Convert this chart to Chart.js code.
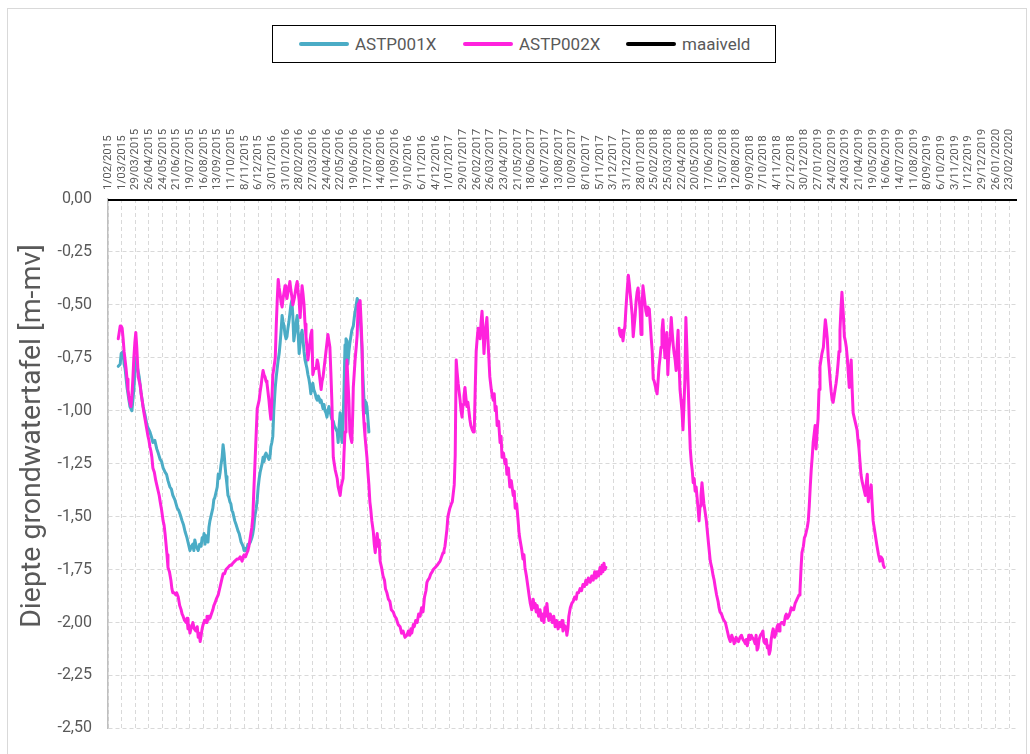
<!DOCTYPE html>
<html>
<head>
<meta charset="utf-8">
<title>Diepte grondwatertafel</title>
<script src="https://cdn.jsdelivr.net/npm/chart.js@4.4.0/dist/chart.umd.min.js"></script>
<style>
  html, body { margin: 0; padding: 0; background: #fff; }
  #wrap { position: relative; width: 1030px; height: 754px; overflow: hidden; }
  #frame { position: absolute; left: 7px; top: 8px; width: 1020px; height: 800px;
           border: 1px solid #d9d9d9; box-sizing: border-box; pointer-events: none; }
  #legend { position: absolute; left: 272px; top: 25px; width: 504px; height: 38px;
            border: 1.5px solid #000; box-sizing: border-box; background: #fff;
            font-family: Roboto, "Liberation Sans", sans-serif; font-size: 17px; color: #595959; }
  #legend .item { position: absolute; top: 0; height: 100%; display: flex; align-items: center; white-space: nowrap; }
  #legend .swatch { display: inline-block; width: 50px; height: 4px; border-radius: 2px; margin-right: 6px; }
  canvas { position: absolute; left: 0; top: 0; }
</style>
</head>
<body>
<div id="wrap">
  <canvas id="grafiek" width="1030" height="754"></canvas>
  <div id="frame"></div>
  <div id="legend"></div>
</div>
<script>
// Peilbuismetingen, dagen sinds 1/02/2015 met diepte in m-mv
const asStart = '1/02/2015';
const asEinde = '10/03/2020';

const tickLabels = [
  '1/02/2015','1/03/2015','29/03/2015','26/04/2015','24/05/2015','21/06/2015','19/07/2015',
  '16/08/2015','13/09/2015','11/10/2015','8/11/2015','6/12/2015','3/01/2016','31/01/2016',
  '28/02/2016','27/03/2016','24/04/2016','22/05/2016','19/06/2016','17/07/2016','14/08/2016',
  '11/09/2016','9/10/2016','6/11/2016','4/12/2016','1/01/2017','29/01/2017','26/02/2017',
  '26/03/2017','23/04/2017','21/05/2017','18/06/2017','16/07/2017','13/08/2017','10/09/2017',
  '8/10/2017','5/11/2017','3/12/2017','31/12/2017','28/01/2018','25/02/2018','25/03/2018',
  '22/04/2018','20/05/2018','17/06/2018','15/07/2018','12/08/2018','9/09/2018','7/10/2018',
  '4/11/2018','2/12/2018','30/12/2018','27/01/2019','24/02/2019','24/03/2019','21/04/2019',
  '19/05/2019','16/06/2019','14/07/2019','11/08/2019','8/09/2019','6/10/2019','3/11/2019',
  '1/12/2019','29/12/2019','26/01/2020','23/02/2020'
];

const reeksNamen = ['ASTP001X', 'ASTP002X', 'maaiveld'];
const reeksKleuren = ['#4bacc6', '#ff22dd', '#000000'];

// ASTP001X: [dag, peil]
const astp001x = [
  [21,-0.79],[25,-0.78],[27,-0.73],[31,-0.72],[33,-0.78],[35,-0.80],[39,-0.89],[43,-0.95],
  [45,-0.98],[49,-1.00],[53,-0.90],[57,-0.75],[59,-0.78],[64,-0.84],[68,-0.92],[72,-0.98],
  [76,-1.02],[80,-1.07],[86,-1.10],[90,-1.13],[92,-1.15],[96,-1.14],[100,-1.18],[103,-1.20],[107,-1.23],
  [110,-1.24],[113,-1.27],[117,-1.29],[120,-1.30],[123,-1.33],[127,-1.36],[130,-1.37],[133,-1.40],
  [137,-1.42],[142,-1.46],[145,-1.47],[148,-1.49],[152,-1.52],[155,-1.54],[158,-1.57],[162,-1.60],
  [166,-1.64],[168,-1.66],[171,-1.64],[174,-1.63],[176,-1.66],[178,-1.61],[181,-1.64],[183,-1.65],[185,-1.66],
  [188,-1.63],[191,-1.64],[193,-1.60],[195,-1.61],[197,-1.58],[199,-1.63],[201,-1.59],[203,-1.61],[205,-1.62],
  [207,-1.55],[209,-1.52],[211,-1.50],[213,-1.48],[215,-1.46],[217,-1.42],[219,-1.41],[222,-1.38],[224,-1.36],
  [226,-1.30],[228,-1.32],[230,-1.29],[232,-1.25],[234,-1.22],[236,-1.16],[238,-1.20],[240,-1.26],
  [242,-1.31],[244,-1.35],[246,-1.40],[248,-1.41],[250,-1.43],[252,-1.44],[254,-1.47],[256,-1.48],
  [258,-1.50],[260,-1.52],[263,-1.54],[267,-1.57],[269,-1.58],[271,-1.60],[273,-1.62],[275,-1.63],
  [277,-1.64],[279,-1.66],[281,-1.65],[283,-1.66],[285,-1.65],[287,-1.63],[289,-1.63],[292,-1.62],
  [295,-1.60],[297,-1.58],[299,-1.55],[301,-1.50],[304,-1.46],[306,-1.42],[308,-1.36],[310,-1.32],
  [312,-1.29],[314,-1.27],[316,-1.25],[318,-1.22],[320,-1.24],[322,-1.21],[324,-1.20],[326,-1.20],
  [328,-1.22],[330,-1.23],[332,-1.22],[334,-1.17],[336,-1.15],[338,-1.12],[340,-1.00],[343,-0.89],
  [345,-0.84],[347,-0.80],[349,-0.76],[351,-0.73],[353,-0.68],[355,-0.62],[357,-0.55],[359,-0.58],
  [361,-0.60],[363,-0.64],[365,-0.66],[367,-0.65],[369,-0.61],[371,-0.58],[373,-0.54],[375,-0.50],
  [377,-0.48],[379,-0.55],[381,-0.67],[384,-0.62],[386,-0.58],[388,-0.55],[390,-0.64],[392,-0.73],
  [394,-0.68],[396,-0.64],[398,-0.62],[400,-0.67],[402,-0.72],[404,-0.76],[406,-0.78],[408,-0.80],
  [410,-0.83],[412,-0.85],[414,-0.88],[416,-0.92],[418,-0.89],[420,-0.87],[422,-0.90],[425,-0.92],
  [427,-0.94],[429,-0.95],[431,-0.93],[433,-0.94],[435,-0.96],[437,-0.95],[439,-0.97],[441,-0.99],
  [443,-0.97],[445,-1.00],[447,-1.01],[449,-1.03],[451,-1.00],[453,-0.98],[455,-1.00],[457,-1.02],
  [459,-1.04],[462,-1.05],[464,-1.07],[466,-1.08],[468,-1.09],[470,-1.10],[472,-1.15],[474,-1.07],
  [476,-1.01],[478,-1.10],[480,-1.15],[482,-1.05],[484,-0.90],[486,-0.69],[488,-0.66],[490,-0.67],
  [492,-0.78],[494,-0.72],[496,-0.68],[498,-0.65],[500,-0.62],[503,-0.60],[505,-0.56],[507,-0.53],
  [509,-0.50],[511,-0.47],[513,-0.48],[515,-0.50],[517,-0.55],[519,-0.63],[521,-0.72],[523,-0.85],
  [525,-0.95],[527,-1.01],[529,-0.96],[531,-0.98],[533,-1.04],[535,-1.10]
];

// ASTP002X: [dag, peil]; null = ontbrekende metingen
const astp002x = [
  [21,-0.66],[23,-0.63],[25,-0.60],[27,-0.60],[29,-0.61],[31,-0.66],[33,-0.72],[35,-0.76],[37,-0.80],
  [39,-0.85],[41,-0.90],[44,-0.95],[47,-0.98],[49,-0.93],[51,-0.85],[53,-0.75],[55,-0.68],[57,-0.63],
  [59,-0.70],[62,-0.84],[64,-0.86],[66,-0.88],[68,-0.92],[70,-0.95],[73,-1.00],[76,-1.04],[79,-1.08],
  [82,-1.12],[84,-1.14],[86,-1.17],[88,-1.19],[90,-1.22],[92,-1.27],[95,-1.29],[98,-1.33],[100,-1.35],
  [103,-1.38],[105,-1.40],[107,-1.43],[110,-1.47],[113,-1.52],[115,-1.54],[117,-1.58],[119,-1.63],
  [121,-1.68],[123,-1.74],[126,-1.76],[129,-1.80],[131,-1.84],[133,-1.86],[136,-1.86],[139,-1.87],
  [141,-1.86],[144,-1.88],[147,-1.92],[150,-1.94],[152,-1.96],[154,-1.97],[157,-1.99],[160,-2.00],
  [162,-1.98],[164,-2.03],[166,-2.01],[168,-2.05],[170,-2.03],[172,-2.02],[174,-2.00],[177,-2.03],
  [180,-2.04],[183,-2.02],[185,-2.07],[187,-2.05],[189,-2.09],[191,-2.06],[193,-2.03],[195,-2.01],
  [198,-1.99],[201,-2.00],[203,-1.97],[205,-1.99],[207,-1.97],[209,-1.98],[212,-1.96],[215,-1.94],
  [217,-1.92],[219,-1.91],[222,-1.89],[226,-1.87],[228,-1.85],[230,-1.83],[233,-1.80],[236,-1.77],
  [239,-1.77],[242,-1.75],[246,-1.74],[250,-1.73],[253,-1.73],[256,-1.72],[260,-1.71],[265,-1.70],
  [268,-1.70],[271,-1.69],[273,-1.70],[275,-1.71],[277,-1.69],[279,-1.68],[282,-1.69],[285,-1.67],
  [287,-1.66],[289,-1.64],[291,-1.61],[293,-1.58],[295,-1.55],[297,-1.50],[299,-1.38],[301,-1.27],
  [304,-1.10],[306,-0.99],[308,-0.97],[310,-0.95],[312,-0.91],[314,-0.88],[316,-0.84],[318,-0.81],
  [320,-0.83],[322,-0.84],[324,-0.86],[326,-0.87],[328,-0.91],[330,-0.95],[332,-1.00],[334,-1.04],
  [336,-0.95],[338,-0.83],[340,-0.80],[343,-0.75],[345,-0.60],[347,-0.48],[349,-0.38],[351,-0.42],
  [353,-0.45],[355,-0.49],[357,-0.51],[359,-0.47],[361,-0.44],[363,-0.41],[365,-0.45],[367,-0.47],
  [369,-0.44],[371,-0.42],[373,-0.39],[375,-0.43],[377,-0.46],[379,-0.50],[382,-0.47],[384,-0.44],
  [386,-0.41],[388,-0.39],[390,-0.44],[392,-0.48],[394,-0.56],[396,-0.48],[398,-0.41],[400,-0.45],
  [402,-0.50],[404,-0.59],[406,-0.65],[408,-0.70],[410,-0.76],[412,-0.72],[414,-0.68],[416,-0.64],
  [418,-0.62],[420,-0.83],[423,-0.80],[427,-0.80],[429,-0.76],[431,-0.78],[433,-0.82],[435,-0.86],
  [437,-0.90],[439,-0.86],[441,-0.84],[444,-0.78],[447,-0.72],[449,-0.68],[451,-0.64],[453,-0.67],
  [455,-0.70],[457,-0.82],[459,-0.95],[462,-1.22],[464,-1.25],[466,-1.28],[468,-1.30],[470,-1.32],
  [472,-1.36],[474,-1.38],[476,-1.40],[478,-1.36],[480,-1.34],[482,-1.32],[484,-1.20],[486,-1.10],
  [488,-0.90],[490,-0.76],[492,-0.86],[494,-0.95],[496,-1.10],[498,-1.13],[500,-1.15],[502,-1.00],
  [503,-0.89],[505,-0.82],[507,-0.75],[509,-0.70],[511,-0.64],[513,-0.50],[515,-0.49],[517,-0.48],
  [519,-0.58],[521,-0.70],[523,-0.98],[525,-1.06],[527,-1.12],[529,-1.17],[531,-1.22],[533,-1.29],
  [535,-1.35],[537,-1.43],[539,-1.47],[541,-1.52],[544,-1.57],[546,-1.63],[548,-1.67],[550,-1.62],
  [552,-1.58],[554,-1.64],[556,-1.61],[558,-1.71],[561,-1.74],[564,-1.78],[567,-1.80],[569,-1.84],
  [572,-1.86],[575,-1.89],[578,-1.90],[581,-1.94],[585,-1.95],[588,-1.97],[591,-1.98],[595,-2.01],
  [599,-2.02],[602,-2.05],[605,-2.04],[609,-2.07],[613,-2.06],[616,-2.04],[619,-2.06],[621,-2.03],
  [623,-2.05],[626,-2.01],[628,-2.02],[631,-1.99],[634,-2.00],[637,-1.96],[640,-1.97],[643,-1.93],
  [646,-1.95],[649,-1.88],[652,-1.85],[654,-1.81],[656,-1.80],[659,-1.79],[662,-1.77],[665,-1.76],
  [667,-1.75],[671,-1.74],[675,-1.73],[678,-1.72],[681,-1.71],[684,-1.69],[687,-1.67],[689,-1.66],
  [691,-1.64],[693,-1.60],[695,-1.56],[697,-1.50],[699,-1.48],[701,-1.46],[704,-1.44],[706,-1.43],
  [708,-1.39],[710,-1.35],[712,-1.21],[714,-0.76],[716,-0.82],[718,-0.87],[720,-0.91],[722,-0.95],
  [724,-1.00],[726,-1.03],[728,-0.97],[730,-0.93],[732,-0.89],[734,-0.94],[736,-0.98],[738,-0.96],
  [740,-1.00],[742,-1.04],[744,-1.07],[747,-1.09],[749,-1.10],[751,-1.10],[753,-0.90],[755,-0.72],
  [757,-0.66],[759,-0.61],[761,-0.64],[763,-0.66],[765,-0.58],[767,-0.53],[769,-0.62],[771,-0.73],
  [773,-0.65],[775,-0.60],[777,-0.56],[779,-0.66],[781,-0.75],[783,-0.84],[786,-0.90],[788,-0.93],
  [790,-0.95],[792,-0.92],[794,-1.00],[796,-0.98],[798,-1.07],[801,-1.05],[804,-1.15],[806,-1.12],
  [808,-1.22],[811,-1.20],[814,-1.25],[816,-1.23],[818,-1.30],[821,-1.27],[824,-1.36],[827,-1.33],
  [831,-1.40],[833,-1.38],[835,-1.46],[838,-1.44],[841,-1.52],[843,-1.58],[845,-1.61],[848,-1.65],
  [851,-1.70],[853,-1.68],[855,-1.74],[858,-1.78],[861,-1.83],[864,-1.88],[866,-1.91],[869,-1.94],
  [872,-1.89],[874,-1.93],[876,-1.91],[878,-1.95],[880,-1.92],[883,-1.97],[886,-1.94],[889,-1.99],
  [892,-1.96],[894,-2.00],[896,-1.93],[898,-1.97],[900,-1.91],[902,-1.96],[904,-1.99],[907,-1.96],
  [911,-2.00],[914,-1.97],[917,-2.02],[920,-1.99],[923,-2.03],[926,-2.00],[929,-2.02],[931,-1.99],
  [933,-2.04],[935,-2.01],[937,-2.03],[939,-2.02],[941,-2.06],[943,-2.03],[945,-1.97],[948,-1.93],
  [951,-1.91],[954,-1.90],[957,-1.88],[960,-1.89],[962,-1.86],[965,-1.86],[968,-1.84],[971,-1.85],
  [974,-1.82],[977,-1.83],[980,-1.80],[982,-1.82],[985,-1.79],[989,-1.81],[992,-1.78],[995,-1.80],
  [998,-1.76],[1001,-1.79],[1003,-1.76],[1006,-1.78],[1009,-1.74],[1011,-1.77],[1013,-1.73],[1015,-1.76],
  [1017,-1.72],[1019,-1.75],[1021,-1.74],
  [1035,null],
  [1048,-0.61],[1050,-0.64],[1052,-0.65],[1054,-0.62],[1056,-0.67],[1058,-0.63],[1060,-0.60],[1062,-0.52],
  [1064,-0.45],[1067,-0.36],[1069,-0.40],[1071,-0.45],[1073,-0.50],[1075,-0.55],[1077,-0.65],[1079,-0.60],
  [1081,-0.55],[1083,-0.48],[1085,-0.44],[1087,-0.42],[1089,-0.47],[1091,-0.52],[1093,-0.64],[1095,-0.52],
  [1097,-0.41],[1099,-0.45],[1101,-0.49],[1103,-0.53],[1105,-0.55],[1107,-0.51],[1110,-0.52],[1112,-0.59],
  [1114,-0.66],[1116,-0.72],[1118,-0.85],[1120,-0.86],[1122,-0.88],[1124,-0.90],[1126,-0.92],[1128,-0.86],
  [1130,-0.79],[1132,-0.75],[1134,-0.70],[1136,-0.62],[1138,-0.57],[1140,-0.66],[1142,-0.75],[1144,-0.68],
  [1146,-0.63],[1148,-0.83],[1150,-0.72],[1153,-0.65],[1155,-0.56],[1157,-0.63],[1159,-0.69],[1161,-0.73],
  [1163,-0.76],[1165,-0.81],[1167,-0.70],[1169,-0.62],[1171,-0.78],[1173,-0.90],[1175,-0.95],[1177,-1.00],
  [1179,-1.09],[1181,-0.98],[1183,-0.85],[1185,-0.56],[1187,-0.70],[1190,-0.90],[1192,-1.05],[1194,-1.18],
  [1196,-1.24],[1198,-1.28],[1200,-1.34],[1202,-1.32],[1204,-1.38],[1206,-1.36],[1208,-1.41],[1210,-1.46],
  [1212,-1.52],[1214,-1.45],[1216,-1.40],[1218,-1.34],[1220,-1.39],[1222,-1.44],[1224,-1.47],[1227,-1.52],
  [1229,-1.57],[1232,-1.64],[1235,-1.71],[1238,-1.74],[1241,-1.78],[1243,-1.80],[1245,-1.83],[1248,-1.87],
  [1251,-1.90],[1253,-1.93],[1255,-1.95],[1258,-1.96],[1261,-1.98],[1263,-1.99],[1266,-2.00],[1268,-2.02],
  [1270,-2.04],[1273,-2.07],[1276,-2.09],[1279,-2.06],[1282,-2.08],[1284,-2.10],[1286,-2.09],[1288,-2.07],
  [1290,-2.08],[1293,-2.09],[1296,-2.07],[1299,-2.06],[1302,-2.08],[1305,-2.09],[1307,-2.10],[1309,-2.08],
  [1311,-2.11],[1314,-2.06],[1317,-2.08],[1319,-2.06],[1321,-2.07],[1324,-2.08],[1327,-2.10],[1329,-2.06],
  [1331,-2.13],[1333,-2.12],[1335,-2.08],[1338,-2.06],[1341,-2.05],[1343,-2.04],[1345,-2.09],[1348,-2.10],
  [1350,-2.08],[1352,-2.12],[1354,-2.11],[1356,-2.15],[1358,-2.13],[1360,-2.08],[1362,-2.05],[1364,-2.03],
  [1367,-2.07],[1370,-2.05],[1372,-2.02],[1374,-2.01],[1376,-2.04],[1378,-2.01],[1381,-2.00],[1384,-2.00],
  [1386,-2.01],[1389,-1.97],[1391,-1.96],[1393,-1.98],[1396,-1.97],[1399,-1.95],[1401,-1.93],[1403,-1.94],
  [1406,-1.94],[1409,-1.91],[1411,-1.90],[1413,-1.89],[1415,-1.88],[1417,-1.87],[1419,-1.85],[1421,-1.75],
  [1423,-1.67],[1426,-1.64],[1428,-1.60],[1430,-1.59],[1432,-1.57],[1434,-1.55],[1436,-1.52],[1438,-1.45],
  [1440,-1.36],[1442,-1.28],[1444,-1.22],[1446,-1.15],[1448,-1.11],[1450,-1.07],[1452,-1.18],[1454,-1.10],
  [1456,-1.04],[1458,-0.90],[1460,-0.79],[1462,-0.76],[1464,-0.73],[1467,-0.70],[1469,-0.63],[1471,-0.57],
  [1473,-0.61],[1475,-0.66],[1477,-0.75],[1479,-0.80],[1481,-0.86],[1483,-0.91],[1485,-0.95],[1487,-0.96],
  [1489,-0.93],[1491,-0.90],[1493,-0.87],[1495,-0.83],[1497,-0.78],[1499,-0.72],[1501,-0.62],[1503,-0.52],
  [1505,-0.44],[1508,-0.55],[1510,-0.65],[1512,-0.67],[1514,-0.70],[1516,-0.75],[1518,-0.82],[1520,-0.89],
  [1522,-0.82],[1524,-0.76],[1526,-0.90],[1528,-1.01],[1530,-1.03],[1532,-1.05],[1534,-1.07],[1536,-1.09],
  [1538,-1.14],[1540,-1.18],[1542,-1.24],[1544,-1.30],[1546,-1.33],[1549,-1.36],[1551,-1.38],[1553,-1.40],
  [1555,-1.34],[1557,-1.30],[1559,-1.43],[1561,-1.40],[1563,-1.38],[1565,-1.35],[1567,-1.44],[1569,-1.52],
  [1571,-1.55],[1573,-1.58],[1575,-1.61],[1577,-1.64],[1580,-1.68],[1583,-1.71],[1585,-1.69],[1588,-1.70],
  [1590,-1.73],[1592,-1.74]
];

// maaiveld: referentieniveau 0 m-mv over de hele periode
const maaiveldDatums = [asStart, asEinde];
const maaiveldPeil = [0, 0];

const yTitel = 'Diepte grondwatertafel [m-mv]';
const yMin = -2.5, yMax = 0, yStap = 0.25;

// datum 'd/mm/jjjj' -> dagen sinds asStart
function naarDag(str) {
  const [d, m, j] = str.split('/').map(s => parseInt(s.trim(), 10));
  const [d0, m0, j0] = asStart.split('/').map(s => parseInt(s.trim(), 10));
  return Math.round((Date.UTC(j, m - 1, d) - Date.UTC(j0, m0 - 1, d0)) / 86400000);
}
const tickDagen = tickLabels.map(naarDag);
const alsPunten = reeks => reeks.map(([x, y]) => ({ x, y }));

const datasets = [
  { label: reeksNamen[0], data: alsPunten(astp001x), borderColor: reeksKleuren[0], borderWidth: 3, order: 2 },
  { label: reeksNamen[1], data: alsPunten(astp002x), borderColor: reeksKleuren[1], borderWidth: 3, order: 1 },
  { label: reeksNamen[2], data: maaiveldDatums.map((d, i) => ({ x: naarDag(d), y: maaiveldPeil[i] })),
    borderColor: reeksKleuren[2], borderWidth: 4, order: 0 }
];
datasets.forEach(ds => Object.assign(ds, {
  pointRadius: 0, pointHoverRadius: 0, tension: 0, fill: false, spanGaps: false,
  borderJoinStyle: 'round', borderCapStyle: 'round'
}));

// legenda
const legenda = document.getElementById('legend');
const legendaLinks = [26, 190, 353];
datasets.forEach((ds, i) => {
  const item = document.createElement('div');
  item.className = 'item';
  item.style.left = legendaLinks[i] + 'px';
  const sw = document.createElement('span');
  sw.className = 'swatch';
  sw.style.background = ds.borderColor;
  const tx = document.createElement('span');
  tx.textContent = ds.label;
  item.appendChild(sw); item.appendChild(tx);
  legenda.appendChild(item);
});

const asTitelPlugin = {
  id: 'asTitel',
  afterDraw(chart) {
    const ctx = chart.ctx;
    ctx.save();
    ctx.translate(33, 436);
    ctx.rotate(-Math.PI / 2);
    ctx.font = '28.5px Roboto';
    ctx.fillStyle = '#595959';
    ctx.textAlign = 'center';
    ctx.textBaseline = 'middle';
    ctx.fillText(yTitel, 0, 0);
    ctx.restore();
  }
};

new Chart(document.getElementById('grafiek'), {
  type: 'line',
  data: { datasets },
  plugins: [asTitelPlugin],
  options: {
    responsive: false,
    animation: false,
    events: [],
    layout: { padding: { top: 100, right: 13, bottom: 16, left: 0 } },
    plugins: { legend: { display: false }, tooltip: { enabled: false } },
    scales: {
      x: {
        type: 'linear',
        position: 'top',
        min: naarDag(asStart),
        max: naarDag(asEinde),
        afterBuildTicks: s => { s.ticks = tickDagen.map(value => ({ value })); },
        afterFit: s => { s.height = 99; },
        ticks: {
          autoSkip: false, minRotation: 90, maxRotation: 90, padding: 9, labelOffset: 14,
          color: '#595959', font: { family: 'Roboto', size: 11.5 },
          callback: (v, i) => tickLabels[i]
        },
        grid: { color: '#d9d9d9', lineWidth: 1, drawTicks: false },
        border: { display: false, dash: [4, 3] }
      },
      y: {
        min: yMin, max: yMax,
        afterFit: s => { s.width = 108; },
        ticks: {
          stepSize: yStap, padding: 16, color: '#595959',
          font: { family: 'Roboto', size: 16 },
          callback: v => v.toFixed(2).replace('.', ',')
        },
        grid: { color: '#d9d9d9', lineWidth: 1, drawTicks: false },
        border: { display: true, color: '#bfbfbf', width: 1.5, dash: [4, 3] }
      }
    }
  }
});
</script>
</body>
</html>
